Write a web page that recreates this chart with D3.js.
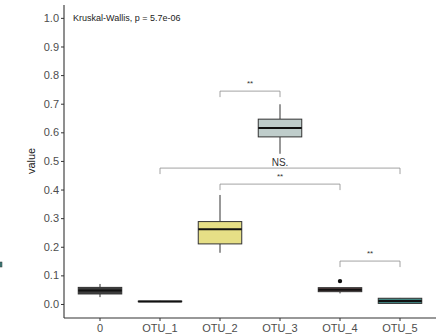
<!DOCTYPE html>
<html>
<head>
<meta charset="utf-8">
<script src="https://cdn.jsdelivr.net/npm/d3@7"></script>
<style>
  html, body { margin: 0; padding: 0; background: #fff; }
  svg { display: block; font-family: "Liberation Sans", Arial, sans-serif; }
</style>
</head>
<body>
<svg id="chart" width="447" height="334"></svg>
<script>
// Groups and their box statistics
const categories = ["0", "OTU_1", "OTU_2", "OTU_3", "OTU_4", "OTU_5"];
const whiskerLow  = [0.024, 0.007, 0.179, 0.525, 0.037, 0.001];
const q1          = [0.035, 0.008, 0.210, 0.584, 0.043, 0.002];
const median      = [0.047, 0.009, 0.261, 0.615, 0.050, 0.010];
const q3          = [0.058, 0.010, 0.288, 0.646, 0.057, 0.020];
const whiskerHigh = [0.070, 0.011, 0.381, 0.698, 0.057, 0.021];
const outliers    = [[], [], [], [], [0.080], []];
const fills       = ["#3c3c3c", "#5a5a5a", "#e6df86", "#bfcdcb", "#5e4646", "#3f8682"];

// Pairwise comparison brackets
const pairFrom   = ["OTU_2", "OTU_1", "OTU_2", "OTU_4"];
const pairTo     = ["OTU_3", "OTU_5", "OTU_4", "OTU_5"];
const pairY      = [0.744, 0.475, 0.419, 0.150];
const pairLabels = ["**", "NS.", "**", "**"];

const yTicks = [0, 0.1, 0.2, 0.3, 0.4, 0.5, 0.6, 0.7, 0.8, 0.9, 1.0];
const testLabel = "Kruskal-Wallis, p = 5.7e-06";

const svg = d3.select("#chart");
const plot = { left: 64, right: 436, top: 5, bottom: 318 };

const x = d3.scaleBand().domain(categories)
  .range([plot.left, plot.right]).paddingOuter(0.1).paddingInner(0);
// center of each category
const xc = c => x(c) + x.bandwidth() / 2;
const y = d3.scaleLinear().domain([-0.049, 1.045]).range([plot.bottom, plot.top]);

const boxW = x.bandwidth() * 0.725;

// legend remnant at the left edge
svg.append("rect").attr("x", 0).attr("y", 262).attr("width", 2).attr("height", 5)
  .attr("fill", "#3f8682").attr("stroke", "#333").attr("stroke-width", 0.5);

// boxes
const rows = categories.map((c, i) => ({
  c, lo: whiskerLow[i], q1: q1[i], med: median[i], q3: q3[i], hi: whiskerHigh[i],
  out: outliers[i], fill: fills[i]
}));

const g = svg.append("g").selectAll("g").data(rows).join("g");
g.append("line")
  .attr("x1", d => xc(d.c)).attr("x2", d => xc(d.c))
  .attr("y1", d => y(d.hi)).attr("y2", d => y(d.q3))
  .attr("stroke", "#333").attr("stroke-width", 1);
g.append("line")
  .attr("x1", d => xc(d.c)).attr("x2", d => xc(d.c))
  .attr("y1", d => y(d.q1)).attr("y2", d => y(d.lo))
  .attr("stroke", "#333").attr("stroke-width", 1);
g.append("rect")
  .attr("x", d => xc(d.c) - boxW / 2).attr("width", boxW)
  .attr("y", d => y(d.q3)).attr("height", d => Math.max(0.5, y(d.q1) - y(d.q3)))
  .attr("fill", d => d.fill).attr("stroke", "#333").attr("stroke-width", 1);
g.append("line")
  .attr("x1", d => xc(d.c) - boxW / 2).attr("x2", d => xc(d.c) + boxW / 2)
  .attr("y1", d => y(d.med)).attr("y2", d => y(d.med))
  .attr("stroke", "#111").attr("stroke-width", 2);
g.selectAll("circle").data(d => d.out.map(v => ({ c: d.c, v }))).join("circle")
  .attr("cx", d => xc(d.c)).attr("cy", d => y(d.v)).attr("r", 2.2).attr("fill", "#111");

// comparison brackets
const br = svg.append("g");
pairFrom.forEach((a, i) => {
  const b = pairTo[i];
  const yy = y(pairY[i]);
  br.append("path")
    .attr("d", `M${xc(a)},${yy + 6}V${yy}H${xc(b)}V${yy + 6}`)
    .attr("fill", "none").attr("stroke", "#8c8c8c").attr("stroke-width", 0.8);
  const lab = pairLabels[i];
  br.append("text")
    .attr("x", (xc(a) + xc(b)) / 2)
    .attr("y", lab === "NS." ? yy - 2 : yy - 5)
    .attr("text-anchor", "middle")
    .attr("font-size", lab === "NS." ? 10 : 8)
    .attr("fill", "#333")
    .text(lab);
});

// axes
const yAxis = svg.append("g").attr("transform", `translate(${plot.left},0)`)
  .call(d3.axisLeft(y).tickValues(yTicks).tickFormat(d3.format(".1f")).tickSize(3).tickPadding(2));
const xAxis = svg.append("g").attr("transform", `translate(0,${plot.bottom})`)
  .call(d3.axisBottom(x).tickSize(3).tickPadding(3));
[yAxis, xAxis].forEach(ax => {
  ax.select(".domain").attr("stroke", "#333").attr("stroke-width", 1.1);
  ax.selectAll(".tick line").attr("stroke", "#333");
  ax.selectAll(".tick text").attr("fill", "#4d4d4d").attr("font-size", 11)
    .attr("font-family", "'Liberation Sans', Arial, sans-serif");
});
yAxis.select(".domain").attr("d", `M0,${plot.top}V${plot.bottom}`);
xAxis.select(".domain").attr("d", `M${plot.left},0H${plot.right}`);

// axis title
svg.append("text")
  .attr("transform", `translate(35,${y(0.5)}) rotate(-90)`)
  .attr("text-anchor", "middle").attr("font-size", 11).attr("fill", "#222")
  .text("value");

// test annotation
svg.append("text").attr("x", 73).attr("y", 21)
  .attr("font-size", 9).attr("fill", "#222").text(testLabel);
</script>
</body>
</html>
